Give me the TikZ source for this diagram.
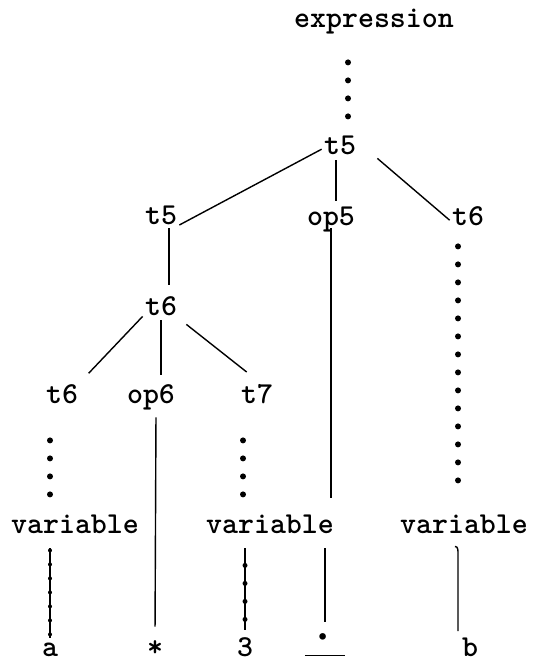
\documentclass[tikz,border=0pt]{standalone}
\usepackage{tikz}

\begin{document}
\begin{tikzpicture}[
      x=0.5pt, y=-0.5pt,
      every node/.style={font=\fontsize{15.2}{18}\selectfont\ttfamily\bfseries, inner sep=1pt,
                         text height=9.3pt, text depth=3.5pt, anchor=base},
      branch/.style={line width=0.7pt},
      dots/.style={line width=3pt, line cap=round, dash pattern=on 0pt off 9pt},
      beads/.style={line width=2pt, line cap=round, dash pattern=on 0pt off 7pt}
  ]
      \useasboundingbox (0,0) rectangle (534,662);

      % Labels of the tree
      \node (expr) at (374,28) {expression};
      \node (t5top) at (340,155) {t5};
      \node (t5l) at (161,225) {t5};
      \node (op5) at (331,226) {op5};
      \node (t6r) at (468,226) {t6};
      \node (t6m) at (161,315) {t6};
      \node (t6l) at (62,403) {t6};
      \node (op6) at (151,403) {op6};
      \node (t7) at (257,403) {t7};
      \node (varl) at (75,533) {variable};
      \node (varm) at (270,533) {variable};
      \node (varr) at (464,533) {variable};
      \node (a) at (50,656) {a};
      \node (star) at (155,656) {*};
      \node (three) at (245,656) {3};
      \node[text height=12pt, text depth=2pt] (div) at (325,653)
          {\underline{\hspace{3pt}\raisebox{1pt}{\fontsize{24}{24}\selectfont·}\hspace{4.5pt}}};
      \node (b) at (470,656) {b};

      % Branches
      \draw[dots, shorten <=12.5pt, shorten >=5pt]
          ([xshift=4pt]t5top.north |- expr.south) -- ([xshift=4pt]t5top.north);
      \draw[branch] (t5top.west) -- (t5l.base east);
      \draw[branch, shorten <=-2pt, shorten >=2.2pt]
          ([xshift=-2pt]t5top.south) -- ([xshift=-2pt]t5top.south |- op5.north);
      \draw[branch] ([shift={(9.5pt,3pt)}]t5top.south east) -- (t6r.west);

      \draw[branch, shorten <=-3pt, shorten >=4.7pt]
          ([xshift=4pt]t5l.south) -- ([xshift=4pt]t6m.north);
      \draw[branch, shorten >=6pt] ([yshift=4pt]t6m.south west) -- (t6l.north east);
      \draw[branch, shorten <=-2pt, shorten >=3.7pt] (t6m.south) -- (t6m.south |- op6.north);
      \draw[branch] ([xshift=3.5pt]t6m.south east) -- ([shift={(4pt,5pt)}]t7.north west);

      \draw[branch, shorten <=-3.5pt, shorten >=7.2pt] (op5.south) -- (op5.south |- varm.north);
      \draw[dots, shorten <=5.5pt, shorten >=12.5pt]
          ([xshift=-5pt]t6r.south) -- ([xshift=-5pt]t6r.south |- varr.north);
      \draw[dots, shorten <=14pt, shorten >=6pt]
          ([xshift=-6pt]t6l.south) -- ([xshift=-6pt]t6l.south |- varl.north);
      \draw[dots, shorten <=14pt, shorten >=6pt]
          ([xshift=-7pt]t7.south) -- ([xshift=-7pt]t7.south |- varm.north);
      \draw[branch, shorten <=2.5pt, shorten >=4.2pt] ([xshift=2.5pt]op6.south) -- (star.north);

      % Down to the symbols
      \draw[branch, shorten <=3pt, shorten >=-1.3pt] (a.north |- varl.south) -- (a.north);
      \draw[beads, shorten <=4pt, shorten >=-1.3pt] (a.north |- varl.south) -- (a.north);
      \draw[branch, shorten <=3pt, shorten >=2.7pt] (three.north |- varm.south) -- (three.north);
      \draw[dots, line width=2.5pt, shorten <=11.5pt, shorten >=2.7pt]
          (three.north |- varm.south) -- (three.north);
      \draw[branch, shorten <=3pt, shorten >=2.5pt] (div.north |- varm.south) -- (div.north);
      \draw[branch] ([xshift=-7.5pt,yshift=-2pt]b.north |- varr.south) to[out=0,in=90] ++(1.5pt,-4pt)
          -- ([xshift=-6pt,yshift=2pt]b.north);
  \end{tikzpicture}
\end{document}
